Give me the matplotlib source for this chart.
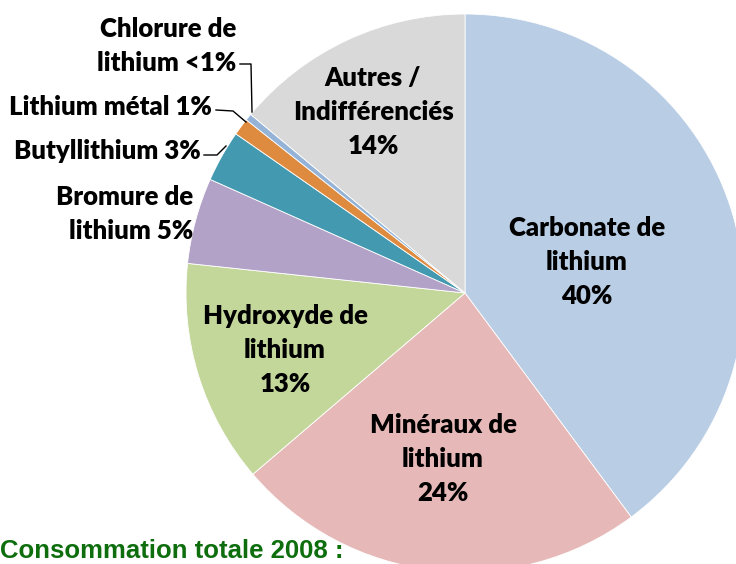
import matplotlib
matplotlib.use("Agg")
from matplotlib import pyplot as plt

labels = ["Carbonate de\nlithium\n40%", "Minéraux de\nlithium\n24%", "Hydroxyde de\nlithium\n13%",
          "Bromure de\nlithium 5%", "Butyllithium 3%", "Lithium métal 1%",
          "Chlorure de\nlithium <1%", "Autres /\nIndifférenciés\n14%"]
shares = [40, 24, 13, 5, 3, 1, 0.4, 14]
colors = ["#B9CDE5", "#E6B9B8", "#C4D79B", "#B3A2C7", "#4399B0", "#DE8A3F", "#95B3D7", "#D9D9D9"]

W, H = 736, 564
CX, CY, R = 465, 293, 279


def px(x, y):
    return (x - CX) / R, (CY - y) / R


plt.rcParams['font.family'] = ['Lato', 'DejaVu Sans']
fig = plt.figure(figsize=(W / 100, H / 100), dpi=100)
ax = fig.add_axes([0, 0, 1, 1])
ax.axis("off")
ax.pie(shares, colors=colors, startangle=90, counterclock=False, radius=1,
       wedgeprops=dict(edgecolor="white", linewidth=0.6))
ax.set_aspect("auto")
ax.set_xlim(-CX / R, (W - CX) / R)
ax.set_ylim(-(H - CY) / R, CY / R)

font = dict(fontsize=18.5, fontweight="heavy", color="black", linespacing=1.52)

# labels inside the slices
ax.text(*px(587, 262), labels[0], ha="center", va="center", **font)
ax.text(*px(443, 459), labels[1], ha="center", va="center", **font)
ax.text(*px(285, 350), labels[2], ha="center", va="center", **font)
ax.text(*px(373, 112), labels[7], ha="center", va="center", **font)

# outside labels
ax.text(*px(193, 214), labels[3], ha="right", va="center", multialignment="right", **font)
ax.text(*px(201, 151), labels[4], ha="right", va="center", **font)
ax.text(*px(212, 107), labels[5], ha="right", va="center", **font)
ax.text(*px(236, 46), labels[6], ha="right", va="center", multialignment="right", **font)

# leader lines
lines = [
    [(240, 64), (251, 64), (252, 112)],
    [(216, 110), (233, 111), (246, 122)],
    [(204, 155), (217, 155), (226, 146)],
]
for pts in lines:
    xs, ys = zip(*[px(*p) for p in pts])
    ax.plot(xs, ys, color="black", linewidth=1)

ax.text(*px(0, 563), "Consommation totale 2008 :", ha="left", va="bottom",
        fontsize=18.5, fontweight="bold", color="#0E6E0E", family=["Liberation Sans", "DejaVu Sans"])

fig.savefig("out.png", dpi=100)
